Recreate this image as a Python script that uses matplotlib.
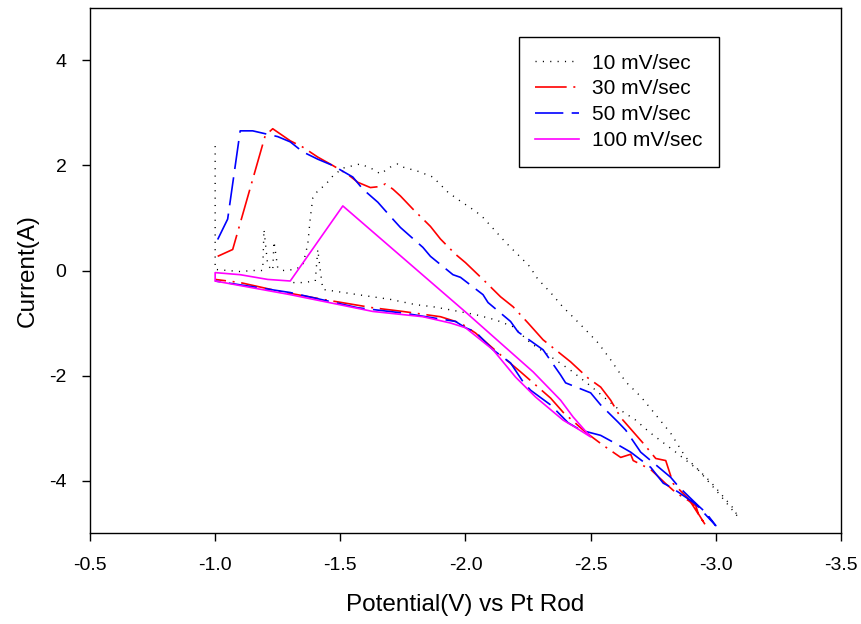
import matplotlib
matplotlib.use("Agg")
import matplotlib.pyplot as plt

plt.rcParams['font.family'] = ['Liberation Sans', 'DejaVu Sans']
plt.rcParams['axes.unicode_minus'] = False

# 10 mV/sec (black dotted)
x10 = [-1.0, -1.0, -1.05, -1.1, -1.15, -1.19, -1.195, -1.21, -1.23, -1.235, -1.25, -1.27,
       -1.32, -1.35, -1.37, -1.38, -1.39, -1.41, -1.44, -1.47, -1.51, -1.58, -1.63, -1.66,
       -1.70, -1.73, -1.75, -1.81, -1.87, -1.93, -1.98, -2.04, -2.07, -2.12, -2.15, -2.18,
       -2.21, -2.26, -2.28, -2.31, -2.34, -2.39, -2.42, -2.48, -2.53, -2.58, -2.64, -2.70,
       -2.75, -2.82, -2.88, -2.98, -3.07, -3.09,
       -3.0, -2.93, -2.84, -2.735, -2.68, -2.6, -2.5, -2.42, -2.34, -2.26, -2.19, -2.12,
       -2.04, -1.94, -1.87, -1.80, -1.70, -1.57, -1.43, -1.42, -1.41, -1.40, -1.35, -1.30]
y10 = [2.37, 0.02, 0.0, -0.02, 0.0, 0.0, 0.78, 0.1, 0.0, 0.55, 0.05, 0.0,
       0.02, 0.1, 0.5, 1.0, 1.38, 1.52, 1.63, 1.8, 1.95, 2.03, 1.93, 1.84,
       1.97, 2.03, 1.97, 1.89, 1.78, 1.49, 1.32, 1.13, 1.01, 0.75, 0.59, 0.44,
       0.3, 0.06, -0.11, -0.27, -0.42, -0.7, -0.84, -1.13, -1.38, -1.7, -2.12, -2.4,
       -2.69, -3.1, -3.56, -4.03, -4.53, -4.7,
       -4.18, -3.8, -3.46, -3.08, -2.85, -2.6, -2.2, -1.9, -1.64, -1.38, -1.07, -0.94,
       -0.84, -0.75, -0.69, -0.65, -0.55, -0.46, -0.36, 0.0, 0.4, -0.2, -0.23, -0.23]

# 30 mV/sec (red dash-dot)
x30 = [-1.01, -1.07, -1.2, -1.23, -1.30, -1.35, -1.41, -1.47, -1.53, -1.57, -1.62, -1.66,
       -1.68, -1.71, -1.74, -1.79, -1.86, -1.90, -1.96, -2.0, -2.07, -2.14, -2.19, -2.25,
       -2.31, -2.42, -2.49, -2.54, -2.58, -2.62, -2.71, -2.76, -2.80, -2.83, -2.89, -2.96,
       -2.93, -2.92, -2.89, -2.84, -2.80, -2.74, -2.67, -2.66, -2.62, -2.55, -2.48, -2.39,
       -2.34, -2.22, -2.15, -2.04, -1.98, -1.94, -1.90, -1.75, -1.63, -1.43, -1.26, -1.1, -1.0]
y30 = [0.27, 0.4, 2.57, 2.7, 2.47, 2.35, 2.16, 2.0, 1.83, 1.68, 1.58, 1.6,
       1.65, 1.55, 1.42, 1.17, 0.84, 0.6, 0.31, 0.15, -0.17, -0.5, -0.69, -1.0,
       -1.32, -1.74, -2.05, -2.22, -2.47, -2.8, -3.29, -3.58, -3.62, -4.06, -4.34, -4.86,
       -4.63, -4.48, -4.38, -4.23, -4.06, -3.79, -3.62, -3.5, -3.56, -3.33, -3.08, -2.7,
       -2.43, -1.93, -1.65, -1.19, -1.0, -0.94, -0.88, -0.78, -0.71, -0.55, -0.40, -0.23, -0.17]

# 50 mV/sec (blue dashed)
x50 = [-1.01, -1.05, -1.10, -1.15, -1.25, -1.30, -1.35, -1.41, -1.47, -1.55, -1.59, -1.65,
       -1.70, -1.74, -1.83, -1.86, -1.95, -1.98, -2.07, -2.09, -2.18, -2.21, -2.31, -2.38,
       -2.40, -2.5, -2.54, -2.61, -2.64, -2.70, -2.74, -2.82, -2.85, -2.93, -2.96, -3.0,
       -2.92, -2.85, -2.81, -2.79, -2.74, -2.66, -2.62, -2.59, -2.54, -2.46, -2.41, -2.34,
       -2.26, -2.23, -2.18, -2.11, -2.04, -2.0, -1.96, -1.75, -1.57, -1.3, -1.0]
y50 = [0.59, 0.98, 2.66, 2.66, 2.55, 2.45, 2.26, 2.12, 2.0, 1.78, 1.55, 1.3,
       1.03, 0.82, 0.44, 0.27, -0.08, -0.13, -0.46, -0.61, -0.97, -1.17, -1.51, -1.99,
       -2.14, -2.33, -2.56, -2.89, -3.04, -3.46, -3.62, -3.94, -4.11, -4.48, -4.61, -4.86,
       -4.45, -4.22, -4.1, -4.05, -3.75, -3.46, -3.35, -3.27, -3.14, -3.04, -2.9, -2.56,
       -2.28, -2.12, -1.76, -1.51, -1.17, -1.09, -0.97, -0.81, -0.71, -0.42, -0.2]

# 100 mV/sec (magenta solid)
x100 = [-1.0, -1.0, -1.1, -1.21, -1.30, -1.51, -2.0, -2.27, -2.38, -2.43, -2.5,
        -2.44, -2.39, -2.28, -2.2, -2.11, -2.0, -1.94, -1.83, -1.63, -1.3, -1.0]
y100 = [-0.17, -0.04, -0.08, -0.17, -0.2, 1.23, -0.79, -1.93, -2.47, -2.79, -3.17,
        -2.99, -2.85, -2.41, -2.03, -1.51, -1.09, -1.0, -0.88, -0.78, -0.46, -0.2]

labels = ['10 mV/sec', '30 mV/sec', '50 mV/sec', '100 mV/sec']
xticks = [-0.5, -1.0, -1.5, -2.0, -2.5, -3.0, -3.5]
yticks = [-4, -2, 0, 2, 4]

fig = plt.figure(figsize=(8.62, 6.24), dpi=100)
ax = fig.add_axes([0.1044, 0.1458, 0.8712, 0.8414])

ax.plot(x10, y10, color='black', lw=1.0, dashes=(0.8, 4.5), label=labels[0])
ax.plot(x30, y30, color='red', lw=1.2, dashes=(19, 4, 1.2, 4), label=labels[1])
ax.plot(x50, y50, color='blue', lw=1.2, dashes=(17, 5), label=labels[2])
ax.plot(x100, y100, color='magenta', lw=1.2, label=labels[3])

ax.set_xlim(-0.5, -3.5)
ax.set_ylim(-5, 5)
ax.set_xticks(xticks)
ax.set_xticklabels(['%.1f' % v for v in xticks])
ax.set_yticks(yticks)
ax.tick_params(direction='out', length=6, width=1, labelsize=14, top=False, right=False)
ax.tick_params(axis='x', pad=11)
ax.tick_params(axis='y', pad=11)
for s in ax.spines.values():
    s.set_linewidth(1.0)

ax.set_xlabel('Potential(V) vs Pt Rod', fontsize=17.5, labelpad=15)
ax.set_ylabel('Current(A)', fontsize=17.5, labelpad=7)

leg = ax.legend(loc='upper left', bbox_to_anchor=(0.571, 0.945), fontsize=15,
                handlelength=2.1, handletextpad=0.6, labelspacing=0.33,
                borderpad=0.8, borderaxespad=0, fancybox=False, framealpha=1)
leg.get_frame().set_edgecolor('black')
leg.get_frame().set_linewidth(1.0)

fig.savefig('out.png', dpi=100)
